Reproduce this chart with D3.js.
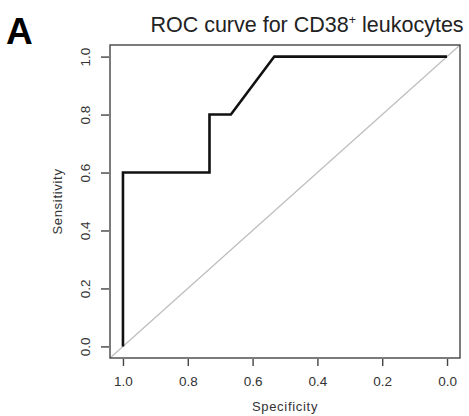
<!DOCTYPE html>
<html>
<head>
<meta charset="utf-8">
<script src="https://cdn.jsdelivr.net/npm/d3@7"></script>
<style>
  body { margin: 0; background: #fff; }
  text { font-family: "Liberation Sans", Arial, sans-serif; }
</style>
</head>
<body>
<svg id="chart" width="469" height="416"></svg>
<script>
// ROC curve points (specificity, sensitivity)
const specificity = [1.0, 1.0, 0.733, 0.733, 0.667, 0.533, 0.0];
const sensitivity = [0.0, 0.6, 0.6, 0.8, 0.8, 1.0, 1.0];
const tickValues = [1.0, 0.8, 0.6, 0.4, 0.2, 0.0];

const svg = d3.select("#chart");

// plot region in pixels
const plotLeft = 110, plotRight = 460, plotTop = 45, plotBottom = 358;

// R-style 4% padding on both scales
let x = d3.scaleLinear().domain([1.04, -0.04]).range([plotLeft, plotRight]);
let y = d3.scaleLinear().domain([-0.04, 1.04]).range([plotBottom, plotTop]);

// reference diagonal
svg.append("line")
    .attr("x1", x(1.04)).attr("y1", y(-0.04))
    .attr("x2", x(-0.04)).attr("y2", y(1.04))
    .attr("stroke", "#bdbdbd")
    .attr("stroke-width", 1.2);

// the curve
let pts = specificity.map(function (s, i) {
    return [s, sensitivity[i]];
});
svg.append("path")
    .datum(pts)
    .attr("fill", "none")
    .attr("stroke", "#111")
    .attr("stroke-width", 2.6)
    .attr("stroke-linejoin", "miter")
    .attr("d", d3.line()
        .x(function (d) { return x(d[0]); })
        .y(function (d) { return y(d[1]); }));

// box around plot
svg.append("rect")
    .attr("x", plotLeft).attr("y", plotTop)
    .attr("width", plotRight - plotLeft).attr("height", plotBottom - plotTop)
    .attr("fill", "none")
    .attr("stroke", "#444")
    .attr("stroke-width", 1.4);

// x axis
let xAxis = d3.axisBottom(x)
    .tickValues(tickValues)
    .tickFormat(d3.format(".1f"))
    .tickSize(7)
    .tickPadding(10);
let gx = svg.append("g")
    .attr("transform", "translate(0," + (plotBottom + 1) + ")")
    .call(xAxis);
gx.select(".domain").remove();

// y axis
let yAxis = d3.axisLeft(y)
    .tickValues(tickValues)
    .tickFormat(d3.format(".1f"))
    .tickSize(8)
    .tickPadding(8);
let gy = svg.append("g")
    .attr("transform", "translate(" + (plotLeft - 1) + ",0)")
    .call(yAxis);
gy.select(".domain").remove();
// rotated labels, like R's las=0
gy.selectAll(".tick text")
    .attr("transform", "rotate(-90)")
    .attr("text-anchor", "middle")
    .attr("x", 0)
    .attr("y", -19)
    .attr("dy", "0");

[gx, gy].forEach(function (g) {
    g.selectAll(".tick line").attr("stroke", "#444").attr("stroke-width", 1.4);
    g.selectAll(".tick text")
        .attr("fill", "#333")
        .style("font-size", "13.5px")
        .style("font-family", "'Liberation Sans', Arial, sans-serif");
});

// axis titles
svg.append("text")
    .attr("x", x(0.5))
    .attr("y", 411)
    .attr("text-anchor", "middle")
    .attr("fill", "#333")
    .style("font-size", "13px")
    .style("letter-spacing", "0.7px")
    .text("Specificity");

svg.append("text")
    .attr("transform", "translate(62," + y(0.5) + ") rotate(-90)")
    .attr("text-anchor", "middle")
    .attr("fill", "#333")
    .style("font-size", "13px")
    .style("letter-spacing", "0.7px")
    .text("Sensitivity");

// title
let title = svg.append("text")
    .attr("x", 307)
    .attr("y", 32)
    .attr("text-anchor", "middle")
    .attr("fill", "#222")
    .style("font-size", "21.5px");
title.append("tspan").text("ROC curve for CD38");
title.append("tspan").attr("dy", -8).style("font-size", "12.5px").text("+");
title.append("tspan").attr("dy", 8).text(" leukocytes");

// panel letter
svg.append("text")
    .attr("x", 6)
    .attr("y", 44)
    .attr("fill", "#000")
    .style("font-size", "37px")
    .style("font-weight", "bold")
    .text("A");
</script>
</body>
</html>
